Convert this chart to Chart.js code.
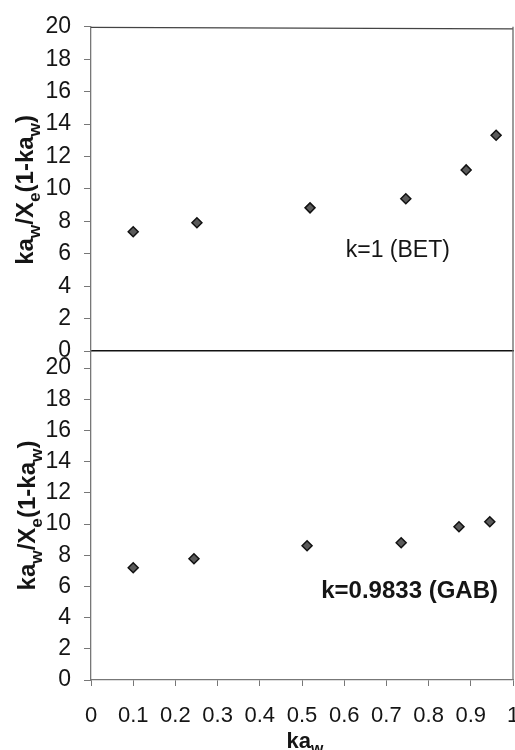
<!DOCTYPE html>
<html>
<head>
<meta charset="utf-8">
<script src="https://cdn.jsdelivr.net/npm/chart.js@4/dist/chart.umd.min.js"></script>
<style>
  html, body { margin: 0; padding: 0; background: #fff; }
  #wrap { position: relative; width: 515px; height: 750px; overflow: hidden; }
  #wrap canvas { position: absolute; left: 0; top: 0; }
</style>
</head>
<body>
<div id="wrap">
  <canvas id="betChart" width="515" height="750"></canvas>
  <canvas id="gabChart" width="515" height="750"></canvas>
</div>
<script>
/* ---------- data ---------- */
const kawBET = [0.100, 0.251, 0.519, 0.746, 0.889, 0.960];
const yBET   = [7.36, 7.91, 8.83, 9.39, 11.17, 13.31];
const kawGAB = [0.100, 0.244, 0.512, 0.735, 0.872, 0.945];
const yGAB   = [7.20, 7.78, 8.61, 8.80, 9.83, 10.15];

const xTicks = [0, 0.1, 0.2, 0.3, 0.4, 0.5, 0.6, 0.7, 0.8, 0.9, 1];
const yTicks = [0, 2, 4, 6, 8, 10, 12, 14, 16, 18, 20];

const labelBET = "k=1 (BET)";
const labelGAB = "k=0.9833 (GAB)";

/* ---------- helpers ---------- */
const FONT = '"Liberation Sans", Arial, Helvetica, sans-serif';
const INK = "#151515";

const yTitle = [
  { t: "ka" }, { t: "w", sub: true }, { t: "/X" }, { t: "e", sub: true },
  { t: "(1-ka" }, { t: "w", sub: true }, { t: ")" }
];
const xTitle = [{ t: "ka" }, { t: "w", sub: true }];

// text with subscripts, centred on (x, y) baseline, optional rotation
const drawRich = (ctx, parts, x, y, rot, size, weight) => {
  ctx.save();
  ctx.translate(x, y);
  ctx.rotate(rot);
  ctx.fillStyle = INK;
  ctx.textAlign = "left";
  ctx.textBaseline = "alphabetic";
  let total = 0;
  const items = parts.map(p => {
    const fs = p.sub ? size * 0.72 : size;
    ctx.font = `${weight} ${fs}px ${FONT}`;
    const w = ctx.measureText(p.t).width;
    total += w;
    return { ...p, fs, w };
  });
  let cx = -total / 2;
  items.forEach(it => {
    ctx.font = `${weight} ${it.fs}px ${FONT}`;
    ctx.fillText(it.t, cx, it.sub ? size * 0.28 : 0);
    cx += it.w;
  });
  ctx.restore();
};

// frame lines + titles + annotation, per chart
const framePlugin = {
  id: "frame",
  afterDraw(chart, args, opts) {
    const { ctx, chartArea: a, scales } = chart;
    ctx.save();
    ctx.lineWidth = 1.3;
    ctx.strokeStyle = opts.topColor;
    if (opts.top) {
      ctx.beginPath(); ctx.moveTo(a.left, a.top + 0.5); ctx.lineTo(a.right, a.top + 2); ctx.stroke();
    }
    ctx.strokeStyle = opts.rightColor;
    ctx.beginPath(); ctx.moveTo(a.right, a.top); ctx.lineTo(a.right, a.bottom); ctx.stroke();
    ctx.restore();

    drawRich(ctx, yTitle, opts.yTitleX, (a.top + a.bottom) / 2 + opts.yTitleShift, -Math.PI / 2, 24, "bold");
    if (opts.xTitle) drawRich(ctx, xTitle, (a.left + a.right) / 2 + 3, 748, 0, 22, "bold");

    const n = opts.note;
    ctx.save();
    ctx.fillStyle = INK;
    ctx.font = `${n.weight} ${n.size}px ${FONT}`;
    ctx.textAlign = "center";
    ctx.textBaseline = "middle";
    ctx.fillText(n.text, scales.x.getPixelForValue(n.x), scales.y.getPixelForValue(n.y));
    ctx.restore();
  }
};

const pointStyle = {
  pointStyle: "rectRot",
  pointRadius: 5,
  pointBackgroundColor: "#5a5a5a",
  pointBorderColor: "#111",
  pointBorderWidth: 1.5,
  showLine: false
};

const makeChart = (id, xs, ys, cfg) => {
  const points = xs.map((x, i) => ({ x, y: ys[i] }));
  return new Chart(document.getElementById(id), {
    type: "scatter",
    data: { datasets: [{ data: points, ...pointStyle }] },
    options: {
      responsive: false,
      animation: false,
      layout: { padding: cfg.padding, autoPadding: false },
      plugins: {
        legend: { display: false },
        tooltip: { enabled: false },
        frame: cfg.frame
      },
      scales: {
        x: {
          type: "linear",
          min: xTicks[0],
          max: xTicks[xTicks.length - 1],
          afterBuildTicks: s => { s.ticks = xTicks.map(v => ({ value: v })); },
          afterFit: s => { s.height = cfg.xHeight; s.paddingLeft = 0; s.paddingRight = 0; },
          border: { display: true, color: cfg.xBorder, width: cfg.xBorderWidth },
          grid: { drawOnChartArea: false, drawTicks: cfg.xTicks, tickLength: 6, color: "#777" },
          ticks: {
            display: cfg.xTicks,
            autoSkip: false,
            maxRotation: 0,
            padding: 17,
            color: INK,
            font: { family: FONT, size: 22 },
            callback: v => String(+v.toFixed(1))
          }
        },
        y: {
          type: "linear",
          min: 0,
          max: cfg.yMax,
          afterBuildTicks: s => { s.ticks = yTicks.map(v => ({ value: v })); },
          afterFit: s => { s.width = 91; },
          border: { display: true, color: "#777", width: 1.3 },
          grid: { drawOnChartArea: false, drawTicks: true, tickLength: 7, color: "#777" },
          ticks: {
            padding: 13,
            color: INK,
            font: { family: FONT, size: 23 }
          }
        }
      }
    },
    plugins: [framePlugin]
  });
};

/* ---------- build the two panels ---------- */
makeChart("betChart", kawBET, yBET, {
  padding: { top: 25, left: 0, right: 2, bottom: 399 },
  yMax: 20,
  xHeight: 0,
  xTicks: false,
  xBorder: "#111",
  xBorderWidth: 1.6,
  frame: {
    top: true, topColor: "#444", rightColor: "#666",
    yTitleX: 33, yTitleShift: 1, xTitle: false,
    note: { text: labelBET, x: 0.727, y: 6.2, size: 23, weight: "normal" }
  }
});

makeChart("gabChart", kawGAB, yGAB, {
  padding: { top: 351, left: 0, right: 2, bottom: 0 },
  yMax: 21.1,
  xHeight: 70,
  xTicks: true,
  xBorder: "#777",
  xBorderWidth: 1.3,
  frame: {
    top: false, topColor: "#444", rightColor: "#777",
    yTitleX: 35, yTitleShift: 0, xTitle: true,
    note: { text: labelGAB, x: 0.755, y: 5.7, size: 24, weight: "bold" }
  }
});
</script>
</body>
</html>
